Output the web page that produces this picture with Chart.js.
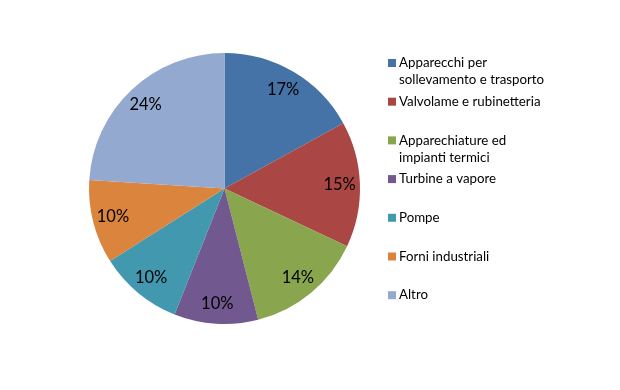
<!DOCTYPE html>
<html>
<head>
<meta charset="utf-8">
<script src="https://cdn.jsdelivr.net/npm/chart.js@4"></script>
<style>
  html, body { margin: 0; padding: 0; background: #fff; }
  #wrap { position: relative; width: 620px; height: 390px; }
</style>
</head>
<body>
<div id="wrap"><canvas id="grafico"></canvas></div>
<script>
// dati del grafico
const categorie = [
    ['Apparecchi per', 'sollevamento e trasporto'],
    ['Valvolame e rubinetteria'],
    ['Apparechiature ed', 'impianti termici'],
    ['Turbine a vapore'],
    ['Pompe'],
    ['Forni industriali'],
    ['Altro']
];
const valori = [17, 15, 14, 10, 10, 10, 24];
const colori = ['#4572A7', '#AA4643', '#89A54E', '#71588F', '#4198AF', '#DB843D', '#93A9CF'];

const fontTesto = 'Lato, "Open Sans", sans-serif';

document.addEventListener('DOMContentLoaded', function () {
    // etichette percentuali dentro le fette
    const etichettePlugin = {
        id: 'etichette',
        afterDatasetsDraw(chart) {
            const ctx = chart.ctx;
            const meta = chart.getDatasetMeta(0);
            const totale = valori.reduce((a, b) => a + b, 0);
            ctx.save();
            ctx.font = '16.5px ' + fontTesto;
            ctx.fillStyle = '#000';
            ctx.textAlign = 'center';
            ctx.textBaseline = 'middle';
            meta.data.forEach(function (arc, i) {
                const p = arc.getProps(['x', 'y', 'startAngle', 'endAngle', 'outerRadius'], true);
                const ang = (p.startAngle + p.endAngle) / 2;
                const r = p.outerRadius * 0.85;
                const pct = Math.round(valori[i] / totale * 100) + '%';
                ctx.fillText(pct, p.x + Math.cos(ang) * r, p.y + Math.sin(ang) * r);
            });
            ctx.restore();
        }
    };

    // legenda a destra
    const legendaPlugin = {
        id: 'legenda',
        afterDraw(chart) {
            const ctx = chart.ctx;
            const x0 = 388;
            const y0 = 63;
            const passo = 38.7;
            const riga = 17;
            ctx.save();
            ctx.font = '13.3px ' + fontTesto;
            ctx.textBaseline = 'middle';
            ctx.textAlign = 'left';
            categorie.forEach(function (righe, i) {
                const y = y0 + i * passo;
                ctx.fillStyle = colori[i];
                ctx.fillRect(x0, y - 4, 8, 8);
                ctx.fillStyle = '#000';
                righe.forEach(function (t, j) {
                    ctx.fillText(t, x0 + 11, y + j * riga);
                });
            });
            ctx.restore();
        }
    };

    const ctx = document.getElementById('grafico').getContext('2d');
    new Chart(ctx, {
        type: 'pie',
        data: {
            labels: categorie.map(r => r.join(' ')),
            datasets: [{
                data: valori,
                backgroundColor: colori,
                borderWidth: 0
            }]
        },
        options: {
            responsive: true,
            maintainAspectRatio: false,
            animation: false,
            layout: {
                padding: { left: 89, top: 53, right: 260, bottom: 66 }
            },
            plugins: {
                legend: { display: false },
                tooltip: { enabled: false }
            }
        },
        plugins: [etichettePlugin, legendaPlugin]
    });
});
</script>
</body>
</html>
